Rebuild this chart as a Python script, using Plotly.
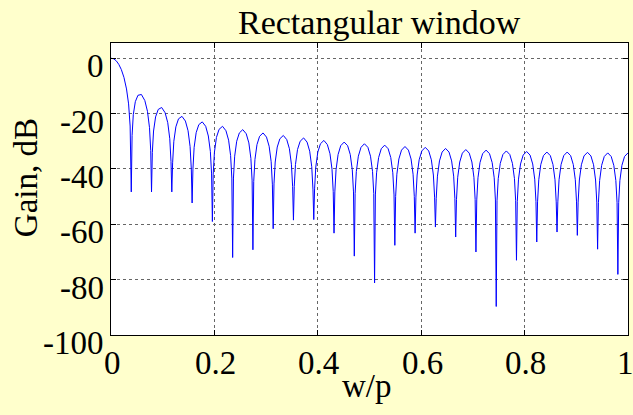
import plotly.graph_objects as go

# ---- data (w/pi, gain in dB) ----
main_w = [0.0, 0.005, 0.010, 0.015, 0.020, 0.025, 0.030, 0.034, 0.037]
main_db = [0.0, -0.2, -0.9, -2.2, -4.1, -6.9, -11.1, -16.5, -24.5]

null_w = [0.0392, 0.0784, 0.1176, 0.1569, 0.1961, 0.2353, 0.2745, 0.3137, 0.3529,
          0.3922, 0.4314, 0.4706, 0.5098, 0.5490, 0.5882, 0.6275, 0.6667, 0.7059,
          0.7451, 0.7843, 0.8235, 0.8627, 0.9020, 0.9412, 0.9804]
null_db = [-48.3, -48.3, -48.3, -52.3, -59.0, -72.0, -69.2, -61.6, -58.5,
           -58.3, -63.2, -71.5, -81.2, -67.6, -63.2, -61.0, -64.6, -70.0,
           -89.7, -73.0, -66.4, -62.8, -64.0, -69.0, -78.1]

# fractional positions of the readings inside each sidelobe (between two nulls)
lobe_pos = [0.04, 0.10, 0.20, 0.33, 0.50, 0.67, 0.80, 0.90, 0.96]
lobe_db = [
    [-27.9, -20.4, -15.7, -13.4, -13.1, -15.3, -19.2, -25.1, -33.4],
    [-34.0, -26.3, -21.2, -18.5, -17.8, -19.7, -23.3, -29.1, -37.3],
    [-37.8, -30.0, -24.8, -21.9, -21.0, -22.7, -26.2, -31.9, -40.0],
    [-40.1, -32.2, -26.9, -24.0, -23.0, -24.6, -28.1, -33.7, -41.8],
    [-41.9, -34.0, -28.6, -25.7, -24.6, -26.2, -29.6, -35.2, -43.3],
    [-43.3, -35.4, -30.0, -27.0, -25.8, -27.3, -30.6, -36.2, -44.3],
    [-44.5, -36.6, -31.2, -28.2, -27.0, -28.5, -31.8, -37.4, -45.5],
    [-45.4, -37.5, -32.1, -29.1, -27.9, -29.4, -32.7, -38.3, -46.4],
    [-46.3, -38.4, -33.0, -30.0, -28.8, -30.3, -33.6, -39.2, -47.3],
    [-47.2, -39.3, -33.9, -30.9, -29.7, -31.2, -34.5, -40.1, -48.2],
    [-48.3, -40.3, -34.8, -31.6, -30.3, -31.6, -34.8, -40.3, -48.3],
    [-48.9, -40.9, -35.4, -32.2, -30.9, -32.2, -35.4, -40.9, -48.9],
    [-49.4, -41.4, -35.9, -32.7, -31.4, -32.7, -35.9, -41.4, -49.4],
    [-49.9, -41.9, -36.4, -33.2, -31.9, -33.2, -36.4, -41.9, -49.9],
    [-50.2, -42.2, -36.7, -33.5, -32.2, -33.5, -36.7, -42.2, -50.2],
    [-50.6, -42.6, -37.1, -33.9, -32.6, -33.9, -37.1, -42.6, -50.6],
    [-51.0, -43.0, -37.5, -34.3, -33.0, -34.3, -37.5, -43.0, -51.0],
    [-51.2, -43.2, -37.7, -34.5, -33.2, -34.5, -37.7, -43.2, -51.2],
    [-51.5, -43.5, -38.0, -34.8, -33.5, -34.8, -38.0, -43.5, -51.5],
    [-51.7, -43.7, -38.2, -35.0, -33.7, -35.0, -38.2, -43.7, -51.7],
    [-51.9, -43.9, -38.4, -35.2, -33.9, -35.2, -38.4, -43.9, -51.9],
    [-51.9, -43.9, -38.4, -35.2, -33.9, -35.2, -38.4, -43.9, -51.9],
    [-52.0, -44.0, -38.5, -35.3, -34.0, -35.3, -38.5, -44.0, -52.0],
    [-52.2, -44.2, -38.7, -35.5, -34.2, -35.5, -38.7, -44.2, -52.2],
    [-52.2, -44.2, -38.7, -35.5, -34.2],   # half lobe ending at w/pi = 1
]

x_ticks = [0, 0.2, 0.4, 0.6, 0.8, 1]
x_ticktext = ["0", "0.2", "0.4", "0.6", "0.8", "1"]
y_ticks = [-100, -80, -60, -40, -20, 0]
y_ticktext = ["-100", "-80", "-60", "-40", "-20", "0"]

# ---- assemble the curve from the readings ----
w = list(main_w)
g = list(main_db)
for k, (nw, nd) in enumerate(zip(null_w, null_db)):
    w.append(nw)
    g.append(nd)
    span = (null_w[k + 1] - nw) if k + 1 < len(null_w) else (nw - null_w[k - 1])
    for f, v in zip(lobe_pos, lobe_db[k]):
        w.append(min(nw + f * span, 1.0))
        g.append(v)

FONT = "Liberation Serif, Times New Roman, serif"
TICKFONT = dict(family=FONT, size=33, color="black")

fig = go.Figure()
fig.add_trace(go.Scatter(x=w, y=g, mode="lines",
                         line=dict(color="#0000FF", width=1),
                         hoverinfo="skip", showlegend=False))

axis_common = dict(
    showline=True, linecolor="black", linewidth=1.2, mirror="ticks",
    ticks="inside", ticklen=5, tickcolor="black", tickwidth=1,
    showgrid=True, gridcolor="#666666", griddash="dot", gridwidth=1,
    zeroline=False, showticklabels=False,
)

fig.update_xaxes(range=[0, 1], tickvals=x_ticks, **axis_common)
fig.update_yaxes(range=[-100, 5.5], tickvals=y_ticks, **axis_common)

# tick labels (MATLAB-style placement)
for v, t in zip(x_ticks, x_ticktext):
    fig.add_annotation(text=t, x=v, xref="x", y=0, yref="paper",
                       xanchor="center", yanchor="middle", yshift=-28,
                       xshift=(1 if v < 1 else -3),
                       showarrow=False, font=TICKFONT)
for v, t in zip(y_ticks, y_ticktext):
    fig.add_annotation(text=t, x=0, xref="paper", y=v, yref="y",
                       xanchor="right", yanchor="middle", xshift=-5, yshift=-8,
                       showarrow=False, font=TICKFONT)

fig.add_annotation(text="Rectangular window", xref="paper", yref="paper",
                   x=0.519, y=1.0685, xanchor="center", yanchor="middle",
                   showarrow=False, font=dict(family=FONT, size=34, color="black"))
fig.add_annotation(text="w/p", xref="paper", yref="paper",
                   x=0.4957, y=-0.1747, xanchor="center", yanchor="middle",
                   showarrow=False, font=dict(family=FONT, size=33, color="black"))
fig.add_annotation(text="Gain, dB", xref="paper", yref="paper",
                   x=-0.164, y=0.5377, xanchor="center", yanchor="middle",
                   textangle=-90, showarrow=False,
                   font=dict(family=FONT, size=33, color="black"))

fig.update_layout(
    width=633, height=415,
    margin=dict(l=111, r=5, t=43, b=80),
    paper_bgcolor="#FFFFCC", plot_bgcolor="white",
)

fig.write_html("out.html")
